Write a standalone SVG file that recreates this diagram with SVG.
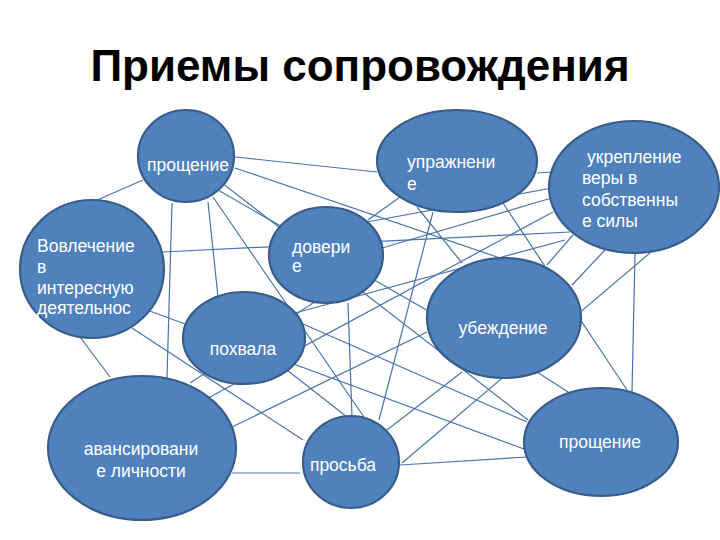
<svg xmlns="http://www.w3.org/2000/svg" width="720" height="540" viewBox="0 0 720 540">
<style>
.c{stroke:#4a74ad;stroke-width:1.2;fill:none}
.n{fill:#4F81BD;stroke:#385D8A;stroke-width:2.2}
.t{font-family:"Liberation Sans",Arial,sans-serif;font-size:17.5px;fill:#ffffff}
.m{text-anchor:middle}
.title{font-family:"Liberation Sans",Arial,sans-serif;font-size:44px;font-weight:bold;fill:#000000;text-anchor:middle}
</style>
<rect width="720" height="540" fill="#ffffff"/>
<text class="title" x="360" y="81">Приемы сопровождения</text>
<g id="connectors">
<line class="c" x1="235" y1="157" x2="377" y2="172"/>
<line class="c" x1="235" y1="168" x2="500" y2="258"/>
<line class="c" x1="222" y1="183" x2="528" y2="420"/>
<line class="c" x1="218" y1="190" x2="430" y2="312"/>
<line class="c" x1="143" y1="180" x2="95" y2="201"/>
<line class="c" x1="172" y1="203" x2="167" y2="378"/>
<line class="c" x1="208" y1="202" x2="218" y2="297"/>
<line class="c" x1="213" y1="197" x2="366" y2="420"/>
<line class="c" x1="163" y1="252" x2="570" y2="232"/>
<line class="c" x1="367" y1="222" x2="552" y2="188"/>
<line class="c" x1="382" y1="248" x2="555" y2="197"/>
<line class="c" x1="368" y1="220" x2="400" y2="197"/>
<line class="c" x1="417" y1="207" x2="462" y2="263"/>
<line class="c" x1="503" y1="203" x2="627" y2="390"/>
<line class="c" x1="433" y1="212" x2="379" y2="420"/>
<line class="c" x1="348" y1="303" x2="352" y2="417"/>
<line class="c" x1="303" y1="324" x2="527" y2="422"/>
<line class="c" x1="147" y1="310" x2="524" y2="449"/>
<line class="c" x1="400" y1="465" x2="527" y2="457"/>
<line class="c" x1="402" y1="463" x2="650" y2="253"/>
<line class="c" x1="387" y1="430" x2="462" y2="372"/>
<line class="c" x1="232" y1="473" x2="300" y2="473"/>
<line class="c" x1="427" y1="332" x2="232" y2="427"/>
<line class="c" x1="190" y1="383" x2="330" y2="292"/>
<line class="c" x1="210" y1="397" x2="553" y2="212"/>
<line class="c" x1="295" y1="313" x2="565" y2="240"/>
<line class="c" x1="537" y1="173" x2="552" y2="172"/>
<line class="c" x1="573" y1="235" x2="547" y2="265"/>
<line class="c" x1="605" y1="250" x2="572" y2="285"/>
<line class="c" x1="635" y1="253" x2="632" y2="392"/>
<line class="c" x1="537" y1="372" x2="568" y2="392"/>
<line class="c" x1="80" y1="337" x2="110" y2="377"/>
<line class="c" x1="132" y1="328" x2="303" y2="440"/>
<line class="c" x1="287" y1="370" x2="347" y2="417"/>
</g>
<g id="n-proshchenie1"><ellipse class="n" cx="186" cy="156" rx="48" ry="46"/><text class="t m" x="188" y="171">прощение</text></g>
<g id="n-vovlechenie"><ellipse class="n" cx="92" cy="269" rx="72" ry="69"/><text class="t" x="37" y="252">Вовлечение</text><text class="t" x="37" y="273">в</text><text class="t" x="37" y="294">интересную</text><text class="t" x="37" y="314">деятельнос</text></g>
<g id="n-doverie"><ellipse class="n" cx="326" cy="255" rx="57" ry="48"/><text class="t" x="292" y="253">довери</text><text class="t" x="292" y="272">е</text></g>
<g id="n-uprazhnenie"><ellipse class="n" cx="457" cy="161" rx="80" ry="51"/><text class="t" x="407" y="168">упражнени</text><text class="t" x="407" y="190">е</text></g>
<g id="n-ukreplenie"><ellipse class="n" cx="634" cy="187" rx="85" ry="66"/><text class="t" x="587" y="163">укрепление</text><text class="t" x="582" y="184">веры в</text><text class="t" x="582" y="206">собственны</text><text class="t" x="582" y="227">е силы</text></g>
<g id="n-ubezhdenie"><ellipse class="n" cx="504" cy="318" rx="77" ry="60"/><text class="t m" x="503" y="334">убеждение</text></g>
<g id="n-pokhvala"><ellipse class="n" cx="244" cy="338" rx="61" ry="46"/><text class="t m" x="243" y="355">похвала</text></g>
<g id="n-avansirovanie"><ellipse class="n" cx="142" cy="448" rx="94" ry="72"/><text class="t m" x="141" y="455">авансировани</text><text class="t m" x="141" y="477">е личности</text></g>
<g id="n-prosba"><ellipse class="n" cx="351" cy="462" rx="48" ry="46"/><text class="t m" x="343" y="471">просьба</text></g>
<g id="n-proshchenie2"><ellipse class="n" cx="601" cy="442" rx="77" ry="54"/><text class="t m" x="600" y="448">прощение</text></g>
</svg>
